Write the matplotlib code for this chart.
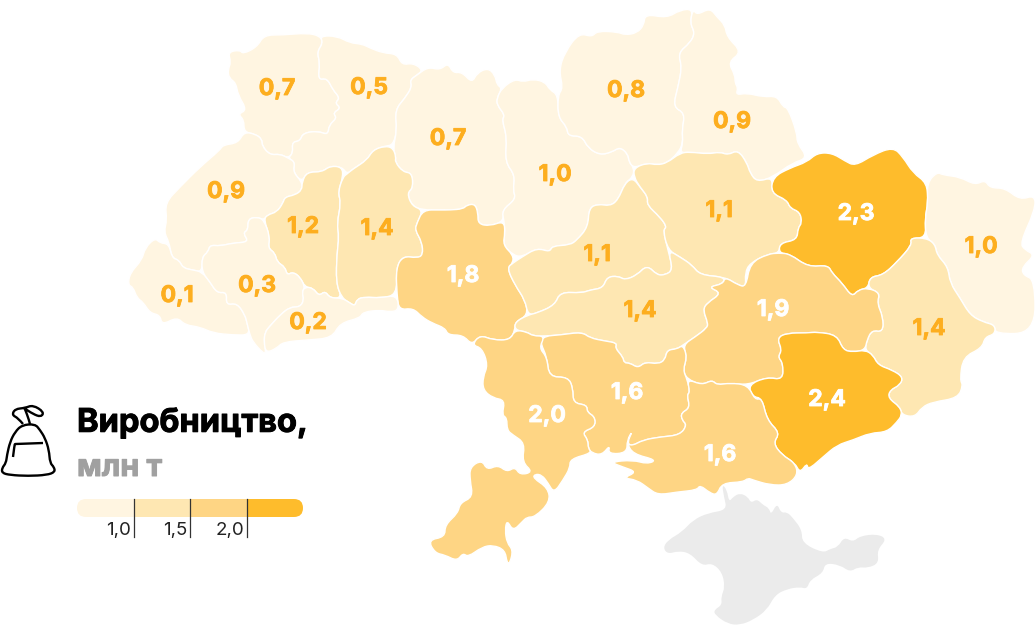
import matplotlib
matplotlib.use("Agg")
import matplotlib.pyplot as plt
import matplotlib.patheffects as pe
import numpy as np
from matplotlib.path import Path
from matplotlib.patches import PathPatch, FancyBboxPatch

plt.rcParams['font.family'] = ['Inter', 'Noto Sans', 'DejaVu Sans']

regions = ["Volyn","Rivne","Zhytomyr","Kyiv","Chernihiv","Sumy","Lviv","Ternopil","Khmelnytskyi","Vinnytsia",
           "Zakarpattia","Ivano-Frankivsk","Chernivtsi","Cherkasy","Poltava","Kirovohrad","Kharkiv","Luhansk",
           "Donetsk","Dnipro","Zaporizhzhia","Mykolaiv","Kherson","Odesa"]
values = [0.7,0.5,0.7,1.0,0.8,0.9,0.9,1.2,1.4,1.8,0.1,0.3,0.2,1.1,1.1,1.4,2.3,1.0,1.4,1.9,2.4,1.6,1.6,2.0]
label_x = [277,369,448,555,626,732,226,303,377,463,177,257,308,597,719,640,856,981,929,773,827,627,720,547]
label_y = [89,88,139,175,91,122,192,227,229,276,296,286,323,255,211,311,214,247,329,310,400,393,455,416]

outlines = {
"Volyn":[(228,52),(240,50),(243,54),(257,47),(264,35),(283,35),(307,33),(320,36),(323,43),(317,52),(320,63),(318,80),(327,78),(333,90),(340,98),(335,103),(341,108),(333,113),(337,118),(329,125),(328,135),(318,131),(303,133),(300,141),(292,142),(293,153),(288,158),(280,154),(270,155),(262,146),(262,139),(255,134),(244,132),(244,120),(238,114),(247,110),(238,95),(236,83),(229,78),(228,70),(231,62)],
"Rivne":[(320,36),(337,36),(350,43),(362,44),(370,48),(383,53),(397,54),(402,65),(413,63),(423,70),(417,75),(410,80),(412,87),(405,98),(395,110),(397,130),(393,145),(385,146),(373,150),(367,160),(353,169),(347,174),(342,167),(330,166),(322,172),(307,172),(302,182),(293,172),(295,162),(288,158),(293,153),(292,142),(300,141),(303,133),(318,131),(328,135),(329,125),(337,118),(333,113),(341,108),(335,103),(340,98),(333,90),(327,78),(318,80),(320,63),(317,52),(323,43)],
"Zhytomyr":[(417,75),(428,67),(440,70),(448,63),(453,73),(462,72),(472,83),(477,73),(488,68),(495,75),(497,85),(502,88),(497,98),(497,105),(505,115),(502,120),(507,137),(505,162),(515,175),(513,190),(516,199),(502,210),(504,221),(490,226),(478,224),(478,213),(475,204),(467,205),(463,209),(450,210),(440,210),(423,210),(412,206),(407,193),(413,188),(412,173),(403,172),(395,162),(396,157),(393,148),(397,130),(395,110),(405,98),(412,87),(410,80)],
"Kyiv":[(502,88),(515,79),(523,82),(533,79),(545,82),(550,90),(558,95),(558,117),(567,127),(568,136),(582,136),(588,148),(600,155),(612,152),(620,147),(628,154),(629,162),(634,168),(633,177),(625,183),(618,200),(610,206),(598,204),(589,208),(588,227),(577,240),(570,245),(552,246),(550,252),(537,248),(522,257),(513,255),(503,245),(505,233),(504,221),(502,210),(516,199),(513,190),(515,175),(505,162),(507,137),(502,120),(505,115),(497,105),(497,98)],
"Chernihiv":[(558,95),(563,88),(559,70),(565,52),(579,33),(592,37),(597,31),(618,32),(625,35),(637,33),(644,25),(645,14),(667,18),(680,10),(693,9),(690,23),(695,33),(690,43),(678,53),(682,67),(678,87),(673,107),(685,113),(682,130),(683,143),(678,153),(667,163),(657,165),(647,163),(634,168),(629,162),(628,154),(620,147),(612,152),(600,155),(588,148),(582,136),(568,136),(567,127),(558,117)],
"Sumy":[(693,9),(697,15),(710,8),(717,17),(725,25),(727,37),(742,52),(728,62),(735,75),(735,83),(738,88),(736,95),(747,93),(763,97),(777,96),(783,107),(788,108),(797,133),(797,143),(808,158),(792,163),(773,177),(757,182),(750,173),(747,163),(738,150),(728,155),(720,152),(708,154),(690,152),(680,153),(683,143),(682,130),(685,113),(673,107),(678,87),(682,67),(678,53),(690,43),(695,33),(690,23)],
"Lviv":[(244,132),(255,134),(262,139),(262,146),(270,155),(280,154),(288,158),(295,162),(293,172),(302,182),(302,190),(295,195),(285,197),(283,203),(277,212),(267,215),(264,220),(257,217),(248,219),(248,230),(243,233),(249,242),(233,243),(220,246),(210,245),(208,252),(202,257),(202,272),(193,270),(183,268),(179,260),(172,258),(169,242),(164,232),(167,220),(165,203),(180,187),(200,167),(220,150),(223,145),(238,143)],
"Ternopil":[(302,182),(307,172),(322,172),(330,166),(342,167),(343,177),(338,192),(341,203),(337,223),(339,237),(337,253),(336,283),(342,298),(330,298),(325,291),(319,296),(313,288),(305,287),(300,277),(293,272),(287,275),(285,267),(277,262),(275,253),(268,248),(270,237),(264,220),(267,215),(277,212),(283,203),(285,197),(295,195),(302,190)],
"Khmelnytskyi":[(347,174),(353,169),(367,160),(373,150),(385,146),(393,148),(396,157),(395,162),(403,172),(412,173),(413,188),(407,193),(412,206),(423,210),(417,223),(415,230),(422,242),(423,255),(417,258),(403,256),(396,268),(397,295),(380,298),(365,297),(357,299),(355,306),(350,303),(342,298),(336,283),(337,253),(339,237),(337,223),(341,203),(338,192),(343,177)],
"Vinnytsia":[(423,210),(440,210),(450,210),(463,209),(467,205),(475,204),(478,213),(478,224),(490,226),(504,221),(505,233),(503,245),(513,255),(513,263),(507,268),(515,285),(525,300),(528,315),(515,322),(515,330),(510,340),(493,340),(480,335),(472,345),(463,335),(448,335),(445,328),(432,323),(422,317),(413,308),(399,310),(397,295),(396,268),(403,256),(417,258),(423,255),(422,242),(415,230),(417,223)],
"Zakarpattia":[(155,238),(160,243),(169,244),(172,258),(179,260),(183,268),(193,270),(202,272),(210,282),(217,293),(227,292),(226,305),(237,303),(245,315),(247,323),(250,335),(233,335),(213,333),(200,327),(185,325),(177,317),(162,325),(160,315),(150,313),(143,302),(137,298),(133,287),(128,285),(130,273),(142,260),(145,248)],
"Ivano-Frankivsk":[(264,220),(270,237),(268,248),(275,253),(277,262),(285,267),(287,275),(293,272),(300,277),(305,287),(302,292),(304,300),(300,307),(290,307),(280,315),(270,326),(265,332),(264,342),(266,353),(263,353),(253,342),(250,335),(247,323),(245,315),(237,303),(226,305),(227,292),(217,293),(210,282),(202,272),(202,257),(208,252),(210,245),(220,246),(233,243),(249,242),(243,233),(248,230),(248,219),(257,217)],
"Chernivtsi":[(305,287),(313,288),(319,296),(325,291),(330,298),(342,298),(350,303),(355,306),(357,299),(365,297),(380,298),(397,295),(399,310),(390,312),(380,310),(363,312),(360,318),(340,323),(332,338),(307,340),(283,342),(277,348),(266,353),(264,342),(265,332),(270,326),(280,315),(290,307),(300,307),(304,300),(302,292)],
"Cherkasy":[(633,178),(640,187),(648,197),(647,205),(660,217),(667,227),(663,230),(668,250),(673,270),(665,275),(657,275),(647,265),(637,275),(625,280),(618,276),(607,277),(603,288),(590,290),(582,293),(560,292),(555,305),(537,313),(528,315),(525,300),(515,285),(507,268),(513,263),(522,257),(537,248),(550,252),(552,246),(570,245),(577,240),(588,227),(589,208),(598,204),(610,206),(618,200),(625,183)],
"Poltava":[(634,168),(647,163),(657,165),(667,163),(680,153),(690,152),(708,154),(720,152),(728,155),(738,150),(747,163),(750,173),(757,182),(773,177),(771,193),(787,200),(790,208),(800,212),(802,223),(798,228),(797,240),(780,243),(779,253),(768,254),(750,263),(745,273),(746,287),(738,285),(725,277),(700,275),(692,265),(680,257),(668,250),(663,230),(667,227),(660,217),(647,205),(648,197),(640,187),(634,177)],
"Kirovohrad":[(528,315),(537,313),(555,305),(560,292),(582,293),(590,290),(603,288),(607,277),(618,276),(625,280),(637,275),(647,265),(657,275),(665,275),(673,270),(668,250),(680,257),(692,265),(700,275),(725,277),(723,284),(708,287),(722,293),(707,303),(703,310),(708,323),(707,328),(695,337),(683,345),(677,349),(667,350),(665,360),(658,364),(645,362),(638,368),(630,363),(624,363),(623,357),(615,348),(617,343),(605,341),(590,338),(582,332),(560,335),(545,336),(533,336),(527,332),(515,330),(515,322)],
"Kharkiv":[(773,177),(790,168),(807,162),(817,153),(832,153),(845,161),(855,166),(873,155),(893,147),(903,157),(913,173),(927,183),(928,203),(925,218),(926,238),(910,238),(912,245),(897,262),(883,275),(870,277),(868,288),(858,290),(852,297),(842,283),(832,273),(828,265),(808,267),(790,254),(779,253),(780,243),(797,240),(798,228),(802,223),(800,212),(790,208),(787,200),(771,193)],
"Luhansk":[(927,183),(937,172),(943,175),(960,177),(975,185),(985,180),(990,188),(1005,188),(1020,200),(1035,195),(1035,210),(1020,243),(1025,250),(1035,255),(1022,267),(1023,275),(1035,280),(1035,333),(995,334),(995,325),(983,322),(970,315),(960,298),(950,283),(948,267),(937,255),(935,244),(926,238),(925,218),(928,203)],
"Donetsk":[(870,277),(883,275),(897,262),(912,245),(910,238),(926,238),(935,244),(937,255),(948,267),(950,283),(960,298),(970,315),(983,322),(995,325),(995,334),(985,337),(982,348),(963,357),(960,380),(963,385),(958,398),(933,402),(922,407),(915,417),(902,415),(900,407),(888,398),(890,390),(900,385),(903,377),(892,370),(878,365),(873,355),(865,350),(867,340),(872,330),(883,332),(883,317),(877,303),(880,293),(868,288)],
"Dnipro":[(746,287),(750,263),(768,254),(779,253),(790,254),(808,267),(828,265),(832,273),(842,283),(852,297),(858,290),(868,288),(880,293),(877,303),(883,317),(883,332),(872,330),(867,340),(865,350),(853,352),(843,350),(837,335),(817,332),(807,333),(787,333),(777,338),(782,350),(778,357),(783,363),(783,380),(767,377),(748,385),(730,383),(717,385),(712,380),(702,385),(687,379),(683,370),(687,357),(683,345),(695,337),(707,328),(708,323),(703,310),(707,303),(722,293),(708,287),(723,284),(725,277),(738,285)],
"Zaporizhzhia":[(777,338),(787,333),(807,333),(817,332),(837,335),(843,350),(853,352),(865,350),(873,355),(878,365),(892,370),(903,377),(900,385),(890,390),(888,398),(900,407),(902,415),(897,422),(887,432),(870,433),(853,440),(837,445),(823,457),(808,470),(807,463),(800,473),(795,463),(782,455),(773,443),(780,433),(767,420),(762,398),(753,397),(748,385),(767,377),(783,380),(783,363),(778,357),(782,350)],
"Mykolaiv":[(540,342),(545,336),(560,335),(582,332),(590,338),(605,341),(617,343),(615,348),(623,357),(624,363),(630,363),(638,368),(645,362),(658,364),(665,360),(667,350),(677,349),(683,345),(687,357),(683,370),(687,379),(690,392),(687,395),(690,408),(681,413),(682,420),(687,425),(680,435),(660,437),(643,440),(632,446),(627,443),(633,430),(627,440),(627,453),(608,454),(610,445),(602,455),(592,453),(588,448),(588,440),(582,432),(595,427),(595,417),(587,412),(587,405),(573,403),(573,388),(568,377),(549,377),(547,357)],
"Kherson":[(687,379),(702,385),(712,380),(717,385),(730,383),(748,385),(755,400),(762,398),(767,420),(780,433),(773,443),(782,455),(795,463),(798,475),(787,485),(770,485),(753,480),(748,478),(743,482),(722,483),(717,495),(710,493),(700,485),(697,490),(677,492),(658,495),(648,488),(637,480),(623,478),(637,472),(623,467),(610,462),(633,460),(647,464),(657,460),(633,454),(627,443),(632,446),(643,440),(660,437),(680,435),(687,425),(682,420),(681,413),(690,408),(687,395),(690,392)],
"Odesa":[(472,345),(480,335),(493,340),(510,340),(515,330),(527,332),(533,336),(545,336),(539,348),(547,357),(549,377),(568,377),(573,388),(573,403),(587,405),(587,412),(595,417),(595,427),(582,432),(588,440),(588,448),(592,453),(570,459),(570,468),(563,480),(554,493),(548,483),(542,475),(535,474),(533,478),(548,488),(550,502),(535,517),(527,517),(522,522),(513,531),(507,520),(505,530),(507,543),(513,550),(510,563),(507,563),(505,550),(493,545),(482,547),(468,557),(463,553),(457,561),(445,555),(435,553),(428,540),(445,537),(445,525),(458,513),(460,503),(473,497),(470,480),(470,467),(482,460),(487,470),(498,465),(507,472),(515,467),(520,475),(533,472),(522,462),(525,443),(513,435),(507,430),(507,418),(502,415),(505,400),(493,398),(483,390),(483,377),(488,365),(482,348)],
}
crimea = [(722,484),(727,490),(729,502),(733,497),(740,493),(748,497),(751,503),(757,499),(763,505),(769,508),(771,515),(777,503),(781,513),(787,512),(793,518),(802,530),(802,543),(823,553),(830,549),(838,547),(844,537),(853,542),(860,536),(877,534),(887,539),(877,550),(879,563),(868,568),(858,567),(850,572),(840,565),(825,563),(823,573),(810,580),(807,589),(800,587),(787,589),(775,595),(767,610),(753,620),(740,625),(728,624),(715,615),(714,610),(722,605),(721,597),(725,587),(722,572),(712,563),(702,566),(690,553),(678,551),(668,554),(663,548),(668,540),(682,532),(693,520),(708,513),(727,510),(724,497)]

bag_body = [(22,425),(15,432),(10,442),(7,455),(6,463),(2,468),(2,473),(10,475),(28,476),(47,475),(55,472),(54,467),(50,463),(49,450),(45,438),(40,430),(35,424)]
bag_tie = [(23,424),(18,418),(12,415),(15,409),(25,408),(33,405),(44,412),(41,417),(33,414),(24,408),(25,409),(29,420),(30,424)]
bag_mark = [(13,457),(14.5,445),(15,444),(16,444),(43,443)]

class_limits = [1.0, 1.5, 2.0]
class_colors = ["#FFF5E1", "#FEE7B2", "#FED584", "#FEBC2C"]
legend_edges = [77, 133.5, 190, 247, 303]
legend_ticks = ["1,0", "1,5", "2,0"]
title_text = "Виробництво,"
unit_text = "млн т"
ORANGE = "#FDAE1F"


def smooth_path(points, closed=True):
    p = np.array(points, float)
    if closed:
        mids = (p + np.roll(p, -1, axis=0)) / 2
        verts = [mids[-1]]
        codes = [Path.MOVETO]
        for i in range(len(p)):
            verts += [p[i], mids[i]]
            codes += [Path.CURVE3, Path.CURVE3]
        verts.append(mids[-1])
        codes.append(Path.CLOSEPOLY)
    else:
        verts = [p[0]]
        codes = [Path.MOVETO]
        for i in range(1, len(p) - 1):
            end = (p[i] + p[i + 1]) / 2 if i < len(p) - 2 else p[i + 1]
            verts += [p[i], end]
            codes += [Path.CURVE3, Path.CURVE3]
    return Path(verts, codes)


def class_color(v):
    return class_colors[int(np.searchsorted(class_limits, v, side="left"))]


def heavier(color, width=0.6):
    return [pe.withStroke(linewidth=width, foreground=color)]


fig = plt.figure(figsize=(10.35, 6.26), dpi=100, facecolor="white")
ax = fig.add_axes([0, 0, 1, 1])
ax.set_xlim(0, 1035)
ax.set_ylim(626, 0)
ax.axis("off")

ax.add_patch(PathPatch(smooth_path(crimea), facecolor="#EBEBEB", edgecolor="none", zorder=1))

for name, v, lx, ly in zip(regions, values, label_x, label_y):
    col = "white" if v > 1.5 else ORANGE
    ax.add_patch(PathPatch(smooth_path(outlines[name]), facecolor=class_color(v),
                           edgecolor="white", linewidth=1.0, zorder=2))
    ax.text(lx, ly, f"{v:.1f}".replace(".", ","), ha="center", va="center", fontsize=16.5,
            fontweight="bold", color=col, zorder=3, path_effects=heavier(col))

# legend bar
clip = FancyBboxPatch((77 + 9, 499 + 9), 226 - 18, 0, boxstyle="round,pad=9,rounding_size=9",
                      facecolor="none", edgecolor="none", transform=ax.transData)
ax.add_patch(clip)
for i, c in enumerate(class_colors):
    bar = ax.barh(508, legend_edges[i + 1] - legend_edges[i], left=legend_edges[i], height=18,
                  color=c, linewidth=0, zorder=2)
    bar[0].set_clip_path(clip)
for x, t in zip(legend_edges[1:4], legend_ticks):
    ax.plot([x, x], [499, 537], color="#333333", linewidth=0.9, zorder=3)
    ax.text(x - 2.5, 530, t, ha="right", va="center", fontsize=13.5, color="#222222")

ax.text(77, 423, title_text, ha="left", va="center", fontsize=23.5, fontweight="bold", color="black",
        path_effects=heavier("black", 0.7))
ax.text(77, 468, unit_text, ha="left", va="center", fontsize=22, fontweight="bold", color="#A0A0A0",
        path_effects=heavier("#A0A0A0", 0.7))

# bag icon
ax.add_patch(PathPatch(smooth_path(bag_body), facecolor="white", edgecolor="black", linewidth=1.7, zorder=3))
ax.add_patch(PathPatch(smooth_path(bag_tie, closed=False), facecolor="none", edgecolor="black", linewidth=1.7, zorder=3))
ax.add_patch(PathPatch(smooth_path(bag_mark, closed=False), facecolor="none", edgecolor="black", linewidth=1.7, zorder=3))

fig.savefig("out.png", dpi=100, facecolor="white")
